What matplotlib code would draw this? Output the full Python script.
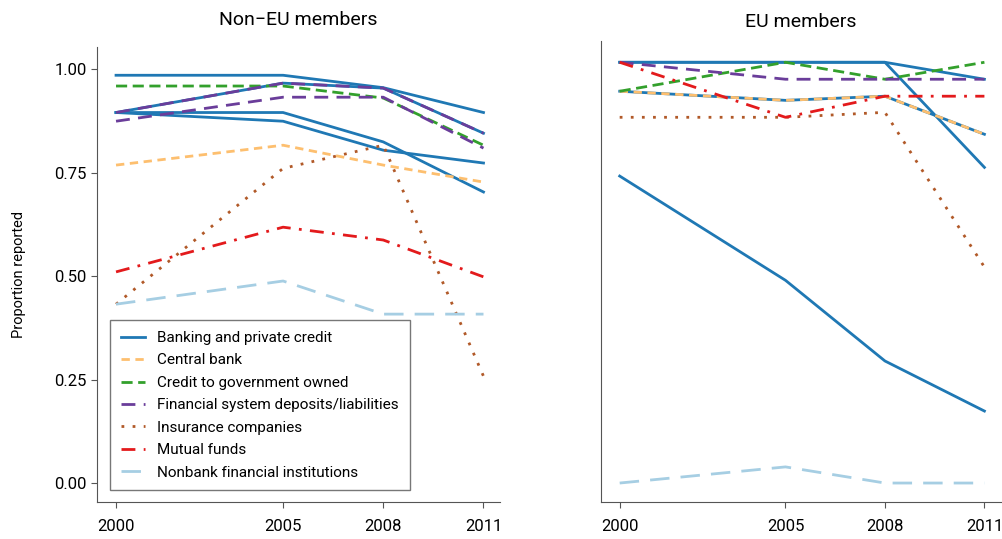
import matplotlib.pyplot as plt

plt.rcParams['font.family'] = ['Roboto', 'DejaVu Sans']

years = [2000, 2005, 2008, 2011]

# colours of each indicator group
group_colors = {
    'Banking and private credit': '#1f78b4',
    'Central bank': '#fdbf6f',
    'Credit to government owned': '#33a02c',
    'Financial system deposits/liabilities': '#6a3d9a',
    'Insurance companies': '#b15928',
    'Mutual funds': '#e31a1c',
    'Nonbank financial institutions': '#a6cee3',
}
group_styles = {
    'Banking and private credit': '-',
    'Central bank': (0, (3, 2)),
    'Credit to government owned': (0, (4, 2)),
    'Financial system deposits/liabilities': (0, (5, 3)),
    'Insurance companies': (0, (1, 3)),
    'Mutual funds': (0, (5, 3, 1, 3)),
    'Nonbank financial institutions': (0, (7, 4)),
}

# Non-EU members
non_eu_banking_1 = [0.985, 0.985, 0.955, 0.895]
non_eu_banking_2 = [0.895, 0.966, 0.954, 0.845]
non_eu_banking_3 = [0.895, 0.895, 0.824, 0.703]
non_eu_banking_4 = [0.895, 0.874, 0.804, 0.773]
non_eu_central = [0.768, 0.816, 0.768, 0.727]
non_eu_govt = [0.959, 0.959, 0.930, 0.816]
non_eu_deposits_1 = [0.874, 0.932, 0.932, 0.809]
non_eu_deposits_2 = [0.895, 0.966, 0.954, 0.845]
non_eu_insurance = [0.432, 0.760, 0.816, 0.258]
non_eu_mutual = [0.510, 0.618, 0.587, 0.498]
non_eu_nonbank = [0.432, 0.488, 0.408, 0.408]

# EU members
eu_banking_1 = [1.017, 1.017, 1.017, 0.976]
eu_banking_2 = [1.017, 1.017, 1.017, 0.763]
eu_banking_3 = [0.947, 0.925, 0.935, 0.843]
eu_banking_4 = [0.742, 0.490, 0.295, 0.174]
eu_central = [0.947, 0.925, 0.935, 0.843]
eu_govt = [0.947, 1.017, 0.976, 1.017]
eu_deposits = [1.017, 0.976, 0.976, 0.976]
eu_insurance = [0.884, 0.884, 0.896, 0.522]
eu_mutual = [1.017, 0.884, 0.935, 0.935]
eu_nonbank = [0.0, 0.039, 0.0, 0.0]

non_eu_series = [
    ('Banking and private credit', non_eu_banking_1),
    ('Banking and private credit', non_eu_banking_2),
    ('Banking and private credit', non_eu_banking_3),
    ('Banking and private credit', non_eu_banking_4),
    ('Central bank', non_eu_central),
    ('Credit to government owned', non_eu_govt),
    ('Financial system deposits/liabilities', non_eu_deposits_1),
    ('Financial system deposits/liabilities', non_eu_deposits_2),
    ('Insurance companies', non_eu_insurance),
    ('Mutual funds', non_eu_mutual),
    ('Nonbank financial institutions', non_eu_nonbank),
]
eu_series = [
    ('Banking and private credit', eu_banking_1),
    ('Banking and private credit', eu_banking_2),
    ('Banking and private credit', eu_banking_3),
    ('Banking and private credit', eu_banking_4),
    ('Central bank', eu_central),
    ('Credit to government owned', eu_govt),
    ('Financial system deposits/liabilities', eu_deposits),
    ('Insurance companies', eu_insurance),
    ('Mutual funds', eu_mutual),
    ('Nonbank financial institutions', eu_nonbank),
]

fig = plt.figure(figsize=(10.03, 5.39), dpi=100)
ax1 = fig.add_axes([0.0967, 0.0686, 0.402, 0.844])
ax2 = fig.add_axes([0.599, 0.0686, 0.399, 0.855])

for ax, series, title, ytop in [(ax1, non_eu_series, 'Non\u2212EU members', 1.053),
                                (ax2, eu_series, 'EU members', 1.068)]:
    for name, vals in series:
        ax.plot(years, vals, color=group_colors[name], linestyle=group_styles[name],
                linewidth=2.0, label=name)
    ax.set_xlim(1999.43, 2011.5)
    ax.set_ylim(-0.0459, ytop)
    ax.set_xticks(years)
    ax.set_title(title, fontsize=14, pad=16 if ax is ax1 else 10)
    for s in ['top', 'right']:
        ax.spines[s].set_visible(False)
    for s in ['left', 'bottom']:
        ax.spines[s].set_color('#555555')
    ax.tick_params(axis='both', labelsize=12, color='#555555', length=4)
    ax.tick_params(axis='x', pad=8)

ax1.set_yticks([0, 0.25, 0.5, 0.75, 1.0])
ax1.set_yticklabels(['0.00', '0.25', '0.50', '0.75', '1.00'])
ax1.set_ylabel('Proportion reported', fontsize=10.5, labelpad=20)
ax2.set_yticks([])

# legend: one entry per group
handles, labels = ax1.get_legend_handles_labels()
seen = {}
for h, l in zip(handles, labels):
    if l not in seen:
        seen[l] = h
leg = ax1.legend(seen.values(), seen.keys(), loc='lower left',
                 bbox_to_anchor=(0.032, 0.026), borderaxespad=0, fontsize=11,
                 handlelength=1.6, frameon=True, fancybox=False,
                 labelspacing=0.55, borderpad=0.7)
leg.get_frame().set_edgecolor('#555555')
leg.get_frame().set_linewidth(1.0)

fig.savefig('out.png', dpi=100)
